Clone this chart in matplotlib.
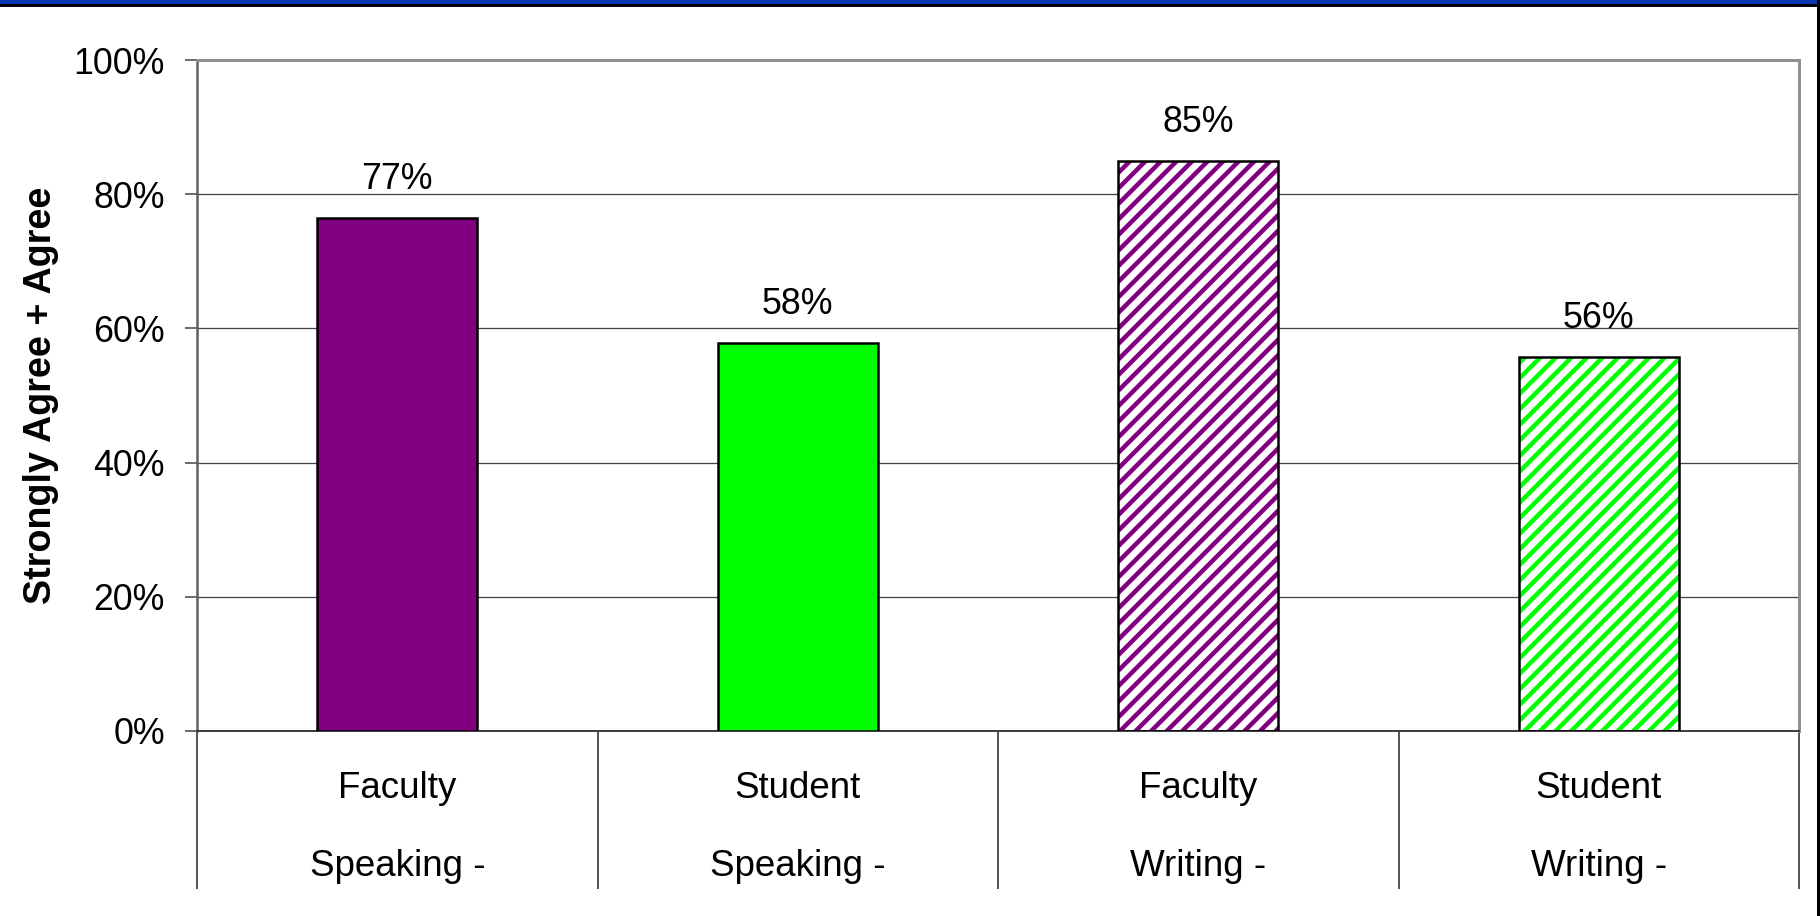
import numpy as np
import matplotlib
matplotlib.use("Agg")
import matplotlib.pyplot as plt
from matplotlib.patches import Rectangle

# ---------- данные ----------
groups = ["Faculty", "Student", "Faculty", "Student"]
skills = ["Speaking -", "Speaking -", "Writing -", "Writing -"]
values = [76.4, 57.8, 85.0, 55.8]
labels = ["77%", "58%", "85%", "56%"]
colors = ["#800080", "#00FF00", "#800080", "#00FF00"]
hatches = ["", "", "///", "///"]
yticks = [0, 20, 40, 60, 80, 100]

# dpi 140 so the hatch tile (one inch) gives stripes close to the original spacing
DPI = 140
W, H = 1820, 916


def pt(px):
    """pixels -> points"""
    return px * 72.0 / DPI


plt.rcParams["font.family"] = ["Liberation Sans", "DejaVu Sans"]
plt.rcParams["hatch.linewidth"] = pt(4.5)

fig = plt.figure(figsize=(W / DPI, H / DPI), dpi=DPI)
ax = fig.add_axes([197 / W, 185 / H, 1602 / W, 671 / H])

x = np.arange(len(values))
for i in x:
    if hatches[i]:
        ax.bar(i, values[i], width=0.4, facecolor="white", edgecolor=colors[i],
               hatch=hatches[i], linewidth=0, zorder=2)
        ax.bar(i, values[i], width=0.4, facecolor="none", edgecolor="black",
               linewidth=pt(2.5), zorder=3)
    else:
        ax.bar(i, values[i], width=0.4, color=colors[i], edgecolor="black",
               linewidth=pt(2.5), zorder=3)
    ax.annotate(labels[i], (i, values[i]), xytext=(0, pt(29)),
                textcoords="offset points", ha="center", va="baseline",
                fontsize=18.4)

ax.set_xlim(-0.5, len(values) - 0.5)
ax.set_ylim(0, 100)
ax.set_yticks(yticks)
ax.set_yticklabels([f"{v}%" for v in yticks])
ax.tick_params(axis="y", direction="out", length=pt(12), width=pt(1.5),
               color="#404040", pad=pt(20), labelsize=18.4)
ax.yaxis.grid(True, color="#444444", linewidth=pt(1.3))
ax.set_axisbelow(True)

# category separators below the axis
ax.set_xticks(x)
ax.set_xticklabels([""] * len(x))
ax.tick_params(axis="x", which="major", length=0)
ax.set_xticks(np.arange(len(values) + 1) - 0.5, minor=True)
ax.tick_params(axis="x", which="minor", direction="out", length=pt(158),
               width=pt(1.5), color="#202020")

for i in x:
    ax.annotate(groups[i], (i, 0), xycoords=ax.get_xaxis_transform(),
                xytext=(0, -pt(57)), textcoords="offset points",
                ha="center", va="center", fontsize=18.9)
    ax.annotate(skills[i], (i, 0), xycoords=ax.get_xaxis_transform(),
                xytext=(0, -pt(136)), textcoords="offset points",
                ha="center", va="center", fontsize=18.9)

for side in ["top", "right"]:
    ax.spines[side].set_color("#909090")
    ax.spines[side].set_linewidth(pt(3))
ax.spines["left"].set_color("#606060")
ax.spines["left"].set_linewidth(pt(2.5))
ax.spines["bottom"].set_color("#404040")
ax.spines["bottom"].set_linewidth(pt(2))

fig.text(41 / W, 1 - 395 / H, "Strongly Agree + Agree", rotation=90,
         ha="center", va="center", fontsize=19.4, fontweight="bold")

# slide frame: blue band on top, black lines
fig.add_artist(Rectangle((0, 1 - 4.5 / H), 1, 4.5 / H, transform=fig.transFigure,
                         facecolor="#0a35b0", edgecolor="none"))
fig.add_artist(Rectangle((0, 1 - 7 / H), 1, 2.5 / H, transform=fig.transFigure,
                         facecolor="black", edgecolor="none"))
fig.add_artist(Rectangle((1 - 3 / W, 0), 3 / W, 1, transform=fig.transFigure,
                         facecolor="black", edgecolor="none"))

fig.savefig("out.png", dpi=DPI)
plt.close(fig)
